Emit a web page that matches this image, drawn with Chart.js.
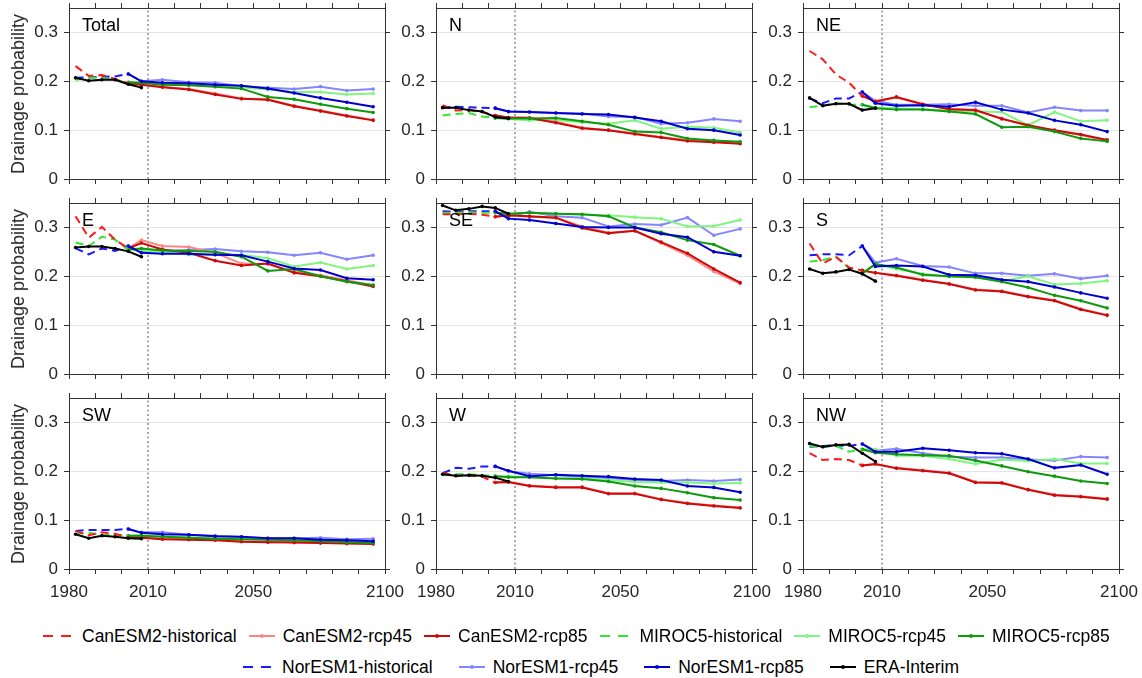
<!DOCTYPE html>
<html>
<head>
<meta charset="utf-8">
<script src="https://cdn.jsdelivr.net/npm/chart.js@4.4.1/dist/chart.umd.min.js"></script>
<style>
  html, body { margin: 0; padding: 0; background: #fff; }
  #wrap { position: relative; width: 1142px; height: 678px; overflow: hidden;
          font-family: "Liberation Sans", Arial, Helvetica, sans-serif; color: #262626; }
  #wrap canvas { position: absolute; }
  .ptitle { position: absolute; font-size: 18px; line-height: 18px; color: #000; white-space: nowrap; }
  .ylab { position: absolute; font-size: 18px; line-height: 18px; color: #262626; white-space: nowrap;
          transform: translate(-50%, -50%) rotate(-90deg); }
  .legrow { position: absolute; height: 20px; display: flex; align-items: center; white-space: nowrap; }
  .leg { display: flex; align-items: center; font-size: 17.5px; line-height: 20px; color: #000; }
  .leg svg { display: block; margin-right: 6px; }
</style>
</head>
<body>
<div id="wrap"></div>
<script>
// ---- time axes of the three kinds of series ----
const YEARS_HIST = [1982.5, 1987.5, 1992.5, 1997.5, 2002.5];
const YEARS_ERA  = [1982.5, 1987.5, 1992.5, 1997.5, 2002.5, 2007.5];
const YEARS_RCP  = [2002.5, 2007.5, 2015.5, 2025.5, 2035.5, 2045.5, 2055.5, 2065.5, 2075.5, 2085.5, 2095.5];

const X_TICKS  = [1980, 1990, 2000, 2010, 2020, 2030, 2040, 2050, 2060, 2070, 2080, 2090, 2100];
const X_LABELS = [1980, 2010, 2050, 2100];
const Y_TICKS  = [0, 0.1, 0.2, 0.3];
const DIVIDE_YEAR = 2010;

const REGIONS = ['Total', 'N', 'NE', 'E', 'SE', 'S', 'SW', 'W', 'NW'];

// ---- drainage probability, one row per region (order of REGIONS) ----
const canesm2Hist = [
  [0.231, 0.211, 0.213, 0.205, 0.196],
  [0.151, 0.140, 0.141, 0.137, 0.130],
  [0.262, 0.245, 0.214, 0.197, 0.170],
  [0.323, 0.279, 0.301, 0.275, 0.257],
  [0.327, 0.327, 0.328, 0.326, 0.322],
  [0.267, 0.226, 0.240, 0.218, 0.212],
  [0.078, 0.069, 0.075, 0.072, 0.065],
  [0.197, 0.190, 0.192, 0.189, 0.177],
  [0.237, 0.223, 0.225, 0.223, 0.212]
];
const canesm2Rcp45 = [
  [0.196, 0.193, 0.189, 0.184, 0.175, 0.165, 0.163, 0.150, 0.140, 0.130, 0.121],
  [0.130, 0.126, 0.126, 0.117, 0.105, 0.100, 0.093, 0.086, 0.080, 0.077, 0.074],
  [0.170, 0.160, 0.167, 0.153, 0.144, 0.140, 0.124, 0.109, 0.099, 0.090, 0.079],
  [0.257, 0.274, 0.262, 0.260, 0.248, 0.226, 0.225, 0.210, 0.202, 0.192, 0.181],
  [0.322, 0.325, 0.322, 0.320, 0.302, 0.289, 0.293, 0.268, 0.243, 0.210, 0.185],
  [0.212, 0.207, 0.202, 0.193, 0.185, 0.173, 0.170, 0.159, 0.151, 0.133, 0.121],
  [0.066, 0.065, 0.062, 0.061, 0.060, 0.057, 0.056, 0.055, 0.054, 0.053, 0.052],
  [0.177, 0.178, 0.171, 0.168, 0.168, 0.155, 0.155, 0.143, 0.135, 0.130, 0.126],
  [0.212, 0.215, 0.207, 0.202, 0.197, 0.178, 0.177, 0.163, 0.152, 0.149, 0.144]
];
const canesm2Rcp85 = [
  [0.196, 0.193, 0.188, 0.183, 0.173, 0.164, 0.162, 0.149, 0.139, 0.129, 0.120],
  [0.130, 0.126, 0.125, 0.115, 0.104, 0.100, 0.092, 0.085, 0.078, 0.075, 0.072],
  [0.170, 0.158, 0.168, 0.153, 0.143, 0.141, 0.123, 0.110, 0.100, 0.091, 0.080],
  [0.257, 0.268, 0.255, 0.248, 0.232, 0.222, 0.226, 0.207, 0.200, 0.190, 0.179],
  [0.322, 0.325, 0.323, 0.320, 0.299, 0.288, 0.293, 0.270, 0.247, 0.215, 0.187],
  [0.212, 0.207, 0.201, 0.192, 0.184, 0.172, 0.169, 0.158, 0.150, 0.132, 0.120],
  [0.065, 0.064, 0.061, 0.060, 0.059, 0.056, 0.055, 0.054, 0.053, 0.052, 0.051],
  [0.177, 0.178, 0.170, 0.167, 0.167, 0.154, 0.154, 0.142, 0.134, 0.129, 0.125],
  [0.212, 0.215, 0.206, 0.201, 0.196, 0.177, 0.176, 0.162, 0.151, 0.148, 0.143]
];
const miroc5Hist = [
  [0.203, 0.207, 0.207, 0.203, 0.198],
  [0.130, 0.133, 0.135, 0.128, 0.125],
  [0.147, 0.150, 0.155, 0.152, 0.152],
  [0.269, 0.262, 0.281, 0.275, 0.255],
  [0.330, 0.330, 0.331, 0.330, 0.330],
  [0.230, 0.233, 0.240, 0.216, 0.206],
  [0.072, 0.074, 0.070, 0.070, 0.068],
  [0.192, 0.194, 0.194, 0.192, 0.190],
  [0.252, 0.250, 0.252, 0.240, 0.245]
];
const miroc5Rcp45 = [
  [0.198, 0.197, 0.195, 0.193, 0.190, 0.188, 0.183, 0.178, 0.178, 0.173, 0.175],
  [0.125, 0.123, 0.120, 0.120, 0.116, 0.113, 0.120, 0.103, 0.107, 0.105, 0.095],
  [0.152, 0.147, 0.145, 0.143, 0.140, 0.138, 0.137, 0.110, 0.137, 0.118, 0.120],
  [0.255, 0.253, 0.250, 0.244, 0.244, 0.244, 0.237, 0.220, 0.228, 0.215, 0.222],
  [0.330, 0.328, 0.330, 0.328, 0.326, 0.325, 0.321, 0.318, 0.302, 0.303, 0.315],
  [0.206, 0.225, 0.215, 0.205, 0.199, 0.198, 0.190, 0.200, 0.183, 0.185, 0.191],
  [0.068, 0.069, 0.067, 0.065, 0.063, 0.062, 0.061, 0.059, 0.057, 0.056, 0.055],
  [0.190, 0.190, 0.188, 0.186, 0.185, 0.182, 0.178, 0.177, 0.177, 0.175, 0.176],
  [0.245, 0.245, 0.232, 0.232, 0.225, 0.215, 0.224, 0.221, 0.225, 0.216, 0.216]
];
const miroc5Rcp85 = [
  [0.198, 0.197, 0.193, 0.192, 0.189, 0.185, 0.168, 0.163, 0.153, 0.144, 0.136],
  [0.125, 0.124, 0.124, 0.125, 0.118, 0.111, 0.097, 0.095, 0.083, 0.079, 0.076],
  [0.152, 0.145, 0.142, 0.142, 0.138, 0.133, 0.106, 0.107, 0.097, 0.083, 0.077],
  [0.255, 0.257, 0.253, 0.252, 0.250, 0.240, 0.211, 0.215, 0.200, 0.189, 0.182],
  [0.330, 0.328, 0.330, 0.328, 0.327, 0.323, 0.300, 0.290, 0.274, 0.265, 0.242],
  [0.206, 0.225, 0.218, 0.203, 0.200, 0.198, 0.189, 0.177, 0.161, 0.150, 0.135],
  [0.068, 0.068, 0.066, 0.064, 0.062, 0.061, 0.060, 0.059, 0.057, 0.055, 0.053],
  [0.190, 0.188, 0.188, 0.185, 0.184, 0.179, 0.170, 0.165, 0.156, 0.146, 0.141],
  [0.245, 0.238, 0.235, 0.233, 0.232, 0.222, 0.211, 0.199, 0.190, 0.180, 0.175]
];
const noresm1Hist = [
  [0.207, 0.208, 0.209, 0.210, 0.215],
  [0.146, 0.148, 0.147, 0.146, 0.145],
  [0.165, 0.155, 0.165, 0.165, 0.178],
  [0.257, 0.245, 0.257, 0.252, 0.262],
  [0.333, 0.332, 0.333, 0.333, 0.333],
  [0.243, 0.245, 0.245, 0.243, 0.262],
  [0.078, 0.080, 0.080, 0.080, 0.082],
  [0.196, 0.207, 0.205, 0.210, 0.210],
  [0.250, 0.252, 0.253, 0.252, 0.256]
];
const noresm1Rcp45 = [
  [0.215, 0.200, 0.203, 0.198, 0.197, 0.190, 0.187, 0.184, 0.189, 0.181, 0.184],
  [0.145, 0.138, 0.137, 0.135, 0.134, 0.128, 0.127, 0.113, 0.115, 0.123, 0.118],
  [0.178, 0.160, 0.152, 0.152, 0.153, 0.150, 0.150, 0.136, 0.147, 0.140, 0.140],
  [0.262, 0.250, 0.252, 0.254, 0.256, 0.251, 0.249, 0.243, 0.248, 0.235, 0.243],
  [0.333, 0.322, 0.332, 0.323, 0.320, 0.302, 0.307, 0.305, 0.320, 0.284, 0.297],
  [0.262, 0.228, 0.236, 0.221, 0.219, 0.206, 0.206, 0.201, 0.205, 0.195, 0.201],
  [0.082, 0.075, 0.075, 0.070, 0.068, 0.065, 0.063, 0.063, 0.064, 0.061, 0.062],
  [0.210, 0.200, 0.195, 0.192, 0.189, 0.186, 0.182, 0.180, 0.182, 0.180, 0.183],
  [0.256, 0.242, 0.246, 0.237, 0.230, 0.228, 0.228, 0.224, 0.222, 0.230, 0.228]
];
const noresm1Rcp85 = [
  [0.215, 0.200, 0.197, 0.196, 0.193, 0.191, 0.185, 0.176, 0.166, 0.157, 0.148],
  [0.145, 0.138, 0.137, 0.135, 0.133, 0.132, 0.126, 0.118, 0.103, 0.100, 0.090],
  [0.178, 0.155, 0.150, 0.151, 0.148, 0.157, 0.142, 0.135, 0.120, 0.111, 0.097],
  [0.262, 0.248, 0.246, 0.246, 0.244, 0.243, 0.230, 0.216, 0.213, 0.196, 0.193],
  [0.333, 0.318, 0.315, 0.308, 0.301, 0.300, 0.300, 0.287, 0.280, 0.250, 0.242],
  [0.262, 0.220, 0.222, 0.220, 0.203, 0.202, 0.193, 0.189, 0.178, 0.166, 0.155],
  [0.082, 0.074, 0.071, 0.070, 0.067, 0.066, 0.063, 0.063, 0.060, 0.059, 0.057],
  [0.210, 0.201, 0.190, 0.193, 0.191, 0.189, 0.184, 0.182, 0.170, 0.167, 0.157],
  [0.256, 0.240, 0.240, 0.247, 0.243, 0.238, 0.236, 0.225, 0.207, 0.213, 0.194]
];
const eraInterim = [
  [0.207, 0.201, 0.203, 0.203, 0.194, 0.187],
  [0.146, 0.146, 0.141, 0.138, 0.127, 0.124],
  [0.166, 0.150, 0.154, 0.154, 0.141, 0.145],
  [0.259, 0.261, 0.261, 0.257, 0.251, 0.240],
  [0.345, 0.335, 0.338, 0.343, 0.340, 0.328],
  [0.215, 0.206, 0.209, 0.214, 0.205, 0.190],
  [0.071, 0.063, 0.068, 0.066, 0.063, 0.062],
  [0.194, 0.191, 0.192, 0.191, 0.187, 0.179],
  [0.257, 0.250, 0.254, 0.255, 0.237, 0.220]
];

// ---- series styling: name, values, years, colour, dashed, stacking order (lower = on top) ----
const SERIES = [
  { name: 'CanESM2-historical', values: canesm2Hist,  years: YEARS_HIST, color: '#ff1a1a', dashed: true,  order: 2 },
  { name: 'CanESM2-rcp45',      values: canesm2Rcp45, years: YEARS_RCP,  color: '#ff8585', dashed: false, order: 6 },
  { name: 'CanESM2-rcp85',      values: canesm2Rcp85, years: YEARS_RCP,  color: '#cc0a0a', dashed: false, order: 5 },
  { name: 'MIROC5-historical',  values: miroc5Hist,   years: YEARS_HIST, color: '#33e633', dashed: true,  order: 2 },
  { name: 'MIROC5-rcp45',       values: miroc5Rcp45,  years: YEARS_RCP,  color: '#80f580', dashed: false, order: 6 },
  { name: 'MIROC5-rcp85',       values: miroc5Rcp85,  years: YEARS_RCP,  color: '#0f990f', dashed: false, order: 4 },
  { name: 'NorESM1-historical', values: noresm1Hist,  years: YEARS_HIST, color: '#1a1aff', dashed: true,  order: 2 },
  { name: 'NorESM1-rcp45',      values: noresm1Rcp45, years: YEARS_RCP,  color: '#8585ff', dashed: false, order: 6 },
  { name: 'NorESM1-rcp85',      values: noresm1Rcp85, years: YEARS_RCP,  color: '#0000cc', dashed: false, order: 3 },
  { name: 'ERA-Interim',        values: eraInterim,   years: YEARS_ERA,  color: '#000000', dashed: false, order: 1 }
];

// ---- layout of the 3x3 grid (plot areas) ----
const PLOT_LEFT = [69, 436, 803];
const PLOT_TOP  = [8, 203, 398];
const PLOT_W = 316, PLOT_H = 171;
const M = { l: 60, r: 26, t: 8, b: 34 };   // canvas margins around each plot area
const AXIS_COLOR = '#333333';
const TEXT_COLOR = '#262626';
const FONT = { family: '"Liberation Sans", Arial, Helvetica, sans-serif', size: 17 };

const wrap = document.getElementById('wrap');

function fixSize(prop, val) {
  return scale => {
    scale[prop] = val;
    scale.paddingLeft = 0; scale.paddingRight = 0;
    scale.paddingTop = 0; scale.paddingBottom = 0;
  };
}

function buildDatasets(r) {
  const ds = [{
    label: 'divide',
    data: [{ x: DIVIDE_YEAR, y: 0 }, { x: DIVIDE_YEAR, y: 0.35 }],
    borderColor: '#8c8c8c', borderWidth: 1.5, borderDash: [2, 2.5],
    pointRadius: 0, order: 9, clip: false
  }];
  SERIES.forEach(s => {
    ds.push({
      label: s.name,
      data: s.years.map((yr, i) => ({ x: yr, y: s.values[r][i] })),
      borderColor: s.color,
      backgroundColor: s.color,
      borderWidth: 2,
      borderDash: s.dashed ? [8, 5] : [],
      pointRadius: s.dashed ? 0 : 1.8,
      pointBorderWidth: 0,
      pointBackgroundColor: s.color,
      tension: 0,
      order: s.order
    });
  });
  return ds;
}

function makePanel(r) {
  const col = r % 3, row = Math.floor(r / 3);
  const left = PLOT_LEFT[col], top = PLOT_TOP[row];
  const w = PLOT_W + M.l + M.r, h = PLOT_H + M.t + M.b;
  const cv = document.createElement('canvas');
  cv.width = w; cv.height = h;
  cv.style.width = w + 'px'; cv.style.height = h + 'px';
  cv.style.left = (left - M.l) + 'px'; cv.style.top = (top - M.t) + 'px';
  wrap.appendChild(cv);

  const tickGrid = { drawOnChartArea: false, drawTicks: true, tickLength: 5, tickColor: AXIS_COLOR, tickWidth: 1 };
  const border = { display: true, color: AXIS_COLOR, width: 1 };
  const xBase = {
    type: 'linear', axis: 'x', min: 1980, max: 2100,
    afterBuildTicks: s => { s.ticks = X_TICKS.map(v => ({ value: v })); },
    grid: tickGrid, border: border
  };
  const yBase = {
    type: 'linear', axis: 'y', min: 0, max: 0.35,
    afterBuildTicks: s => { s.ticks = Y_TICKS.map(v => ({ value: v })); },
    border: border
  };

  new Chart(cv, {
    type: 'line',
    data: { datasets: buildDatasets(r) },
    options: {
      responsive: false, animation: false, devicePixelRatio: 1,
      layout: { padding: 0 },
      plugins: { legend: { display: false }, tooltip: { enabled: false } },
      scales: {
        x: Object.assign({}, xBase, {
          position: 'bottom',
          ticks: {
            display: row === 2, autoSkip: false, maxRotation: 0, padding: 8,
            color: TEXT_COLOR, font: FONT,
            callback: v => X_LABELS.includes(v) ? String(v) : ''
          },
          afterFit: fixSize('height', M.b)
        }),
        xTop: Object.assign({}, xBase, {
          position: 'top', ticks: { display: false },
          afterFit: fixSize('height', M.t)
        }),
        y: Object.assign({}, yBase, {
          position: 'left',
          grid: { drawOnChartArea: true, color: '#e4e4e4', lineWidth: 1,
                  drawTicks: true, tickLength: 5, tickColor: AXIS_COLOR, tickWidth: 1 },
          ticks: { padding: 6, color: TEXT_COLOR, font: FONT,
                   callback: v => v === 0 ? '0' : v.toFixed(1) },
          afterFit: fixSize('width', M.l)
        }),
        yRight: Object.assign({}, yBase, {
          position: 'right', grid: tickGrid, ticks: { display: false },
          afterFit: fixSize('width', M.r)
        })
      }
    }
  });

  // panel name in the upper-left corner
  const t = document.createElement('div');
  t.className = 'ptitle';
  t.textContent = REGIONS[r];
  t.style.left = (left + 13) + 'px';
  t.style.top = (top + 8) + 'px';
  wrap.appendChild(t);

  if (col === 0) {
    const yl = document.createElement('div');
    yl.className = 'ylab';
    yl.textContent = 'Drainage probability';
    yl.style.left = '18px';
    yl.style.top = (top + PLOT_H / 2) + 'px';
    wrap.appendChild(yl);
  }
}

REGIONS.forEach((_, r) => makePanel(r));

// ---- legend (two rows below the grid) ----
const LEGEND_ROWS = [
  { left: 40,  top: 626, gap: 10, items: [0, 1, 2, 3, 4, 5] },
  { left: 240, top: 657, gap: 24, items: [6, 7, 8, 9] }
];
LEGEND_ROWS.forEach(row => {
  const rowEl = document.createElement('div');
  rowEl.className = 'legrow';
  rowEl.style.left = row.left + 'px';
  rowEl.style.top = row.top + 'px';
  rowEl.style.gap = row.gap + 'px';
  row.items.forEach(idx => {
    const s = SERIES[idx];
    const el = document.createElement('div');
    el.className = 'leg';
    const sw = s.dashed ? 36 : 30;
    let svg = '<svg width="' + sw + '" height="10" viewBox="0 0 ' + sw + ' 10">';
    if (s.dashed) {
      svg += '<line x1="3" y1="5" x2="13" y2="5" stroke="' + s.color + '" stroke-width="2"/>' +
             '<line x1="21" y1="5" x2="31" y2="5" stroke="' + s.color + '" stroke-width="2"/>';
    } else {
      svg += '<line x1="2" y1="5" x2="' + (sw - 2) + '" y2="5" stroke="' + s.color + '" stroke-width="2"/>' +
             '<circle cx="' + (sw / 2) + '" cy="5" r="2" fill="' + s.color + '"/>';
    }
    svg += '</svg>';
    el.innerHTML = svg + '<span></span>';
    el.querySelector('span').textContent = s.name;
    rowEl.appendChild(el);
  });
  wrap.appendChild(rowEl);
});
</script>
</body>
</html>
